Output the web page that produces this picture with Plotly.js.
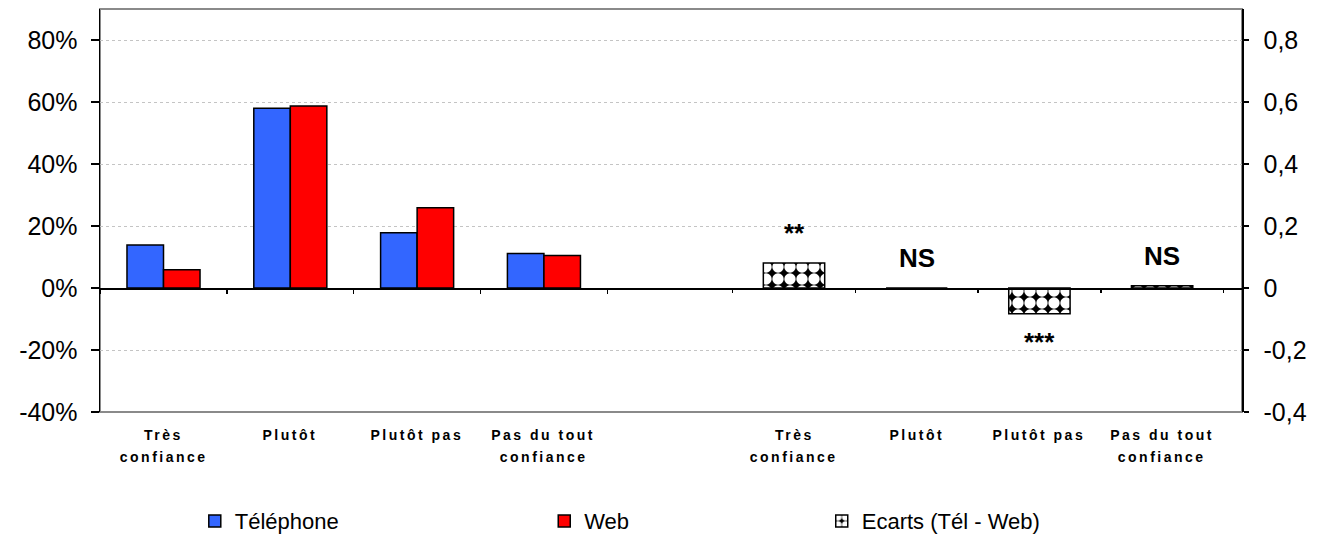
<!DOCTYPE html>
<html>
<head>
<meta charset="utf-8">
<script src="https://cdn.plot.ly/plotly-3.0.1.min.js"></script>
<style>
  html, body { margin: 0; padding: 0; background: #fff; }
  #chart { width: 1318px; height: 535px; }
</style>
</head>
<body>
<div id="chart"></div>
<script>
// ---- data ----
const cats = ['Très confiance', 'Plutôt', 'Plutôt pas', 'Pas du tout confiance'];
const labelLine1 = ['Très', 'Plutôt', 'Plutôt pas', 'Pas du tout'];
const labelLine2 = ['confiance', '', '', 'confiance'];
const telephone = [0.139, 0.580, 0.178, 0.111];
const web = [0.059, 0.587, 0.259, 0.105];
const ecarts = [0.081, 0.0, -0.083, 0.007];
const significance = ['**', 'NS', '***', 'NS'];
const yTickVals = [-0.4, -0.2, 0, 0.2, 0.4, 0.6, 0.8];
const yLeftTickText = ['-40%', '-20%', '0%', '20%', '40%', '60%', '80%'];
const yRightTickText = ['-0,4', '-0,2', '0', '0,2', '0,4', '0,6', '0,8'];
const seriesNames = ['Téléphone', 'Web', 'Ecarts (Tél - Web)'];

// ---- styling ----
const FONT = 'Liberation Sans, Arial, sans-serif';
const yRange = [-0.4, 0.9];
const zeroPos = (0 - yRange[0]) / (yRange[1] - yRange[0]);

const traces = [
  {
    type: 'bar', name: seriesNames[0], x: cats, y: telephone,
    xaxis: 'x', yaxis: 'y', legend: 'legend',
    marker: { color: '#3366FF', line: { color: '#000', width: 1.5 } },
    hoverinfo: 'skip'
  },
  {
    type: 'bar', name: seriesNames[1], x: cats, y: web,
    xaxis: 'x', yaxis: 'y', legend: 'legend2',
    marker: { color: '#FF0000', line: { color: '#000', width: 1.5 } },
    hoverinfo: 'skip'
  },
  {
    type: 'bar', name: seriesNames[2], x: cats, y: ecarts,
    xaxis: 'x2', yaxis: 'y2', legend: 'legend3', width: 0.5,
    marker: {
      color: '#000',
      line: { color: '#000', width: 1.5 },
      pattern: { shape: '.', fgcolor: '#fff', bgcolor: '#000', size: 12, solidity: 0.7, fillmode: 'replace' }
    },
    hoverinfo: 'skip'
  }
];

const annotations = [];
cats.forEach((c, i) => {
  ['x', 'x2'].forEach(xr => {
    annotations.push({
      xref: xr, x: c, yref: 'paper', y: 0, yanchor: 'middle', yshift: -23,
      text: labelLine1[i], showarrow: false,
      font: { family: FONT, size: 14, color: '#000', weight: 'bold' }
    });
    if (labelLine2[i]) {
      annotations.push({
        xref: xr, x: c, yref: 'paper', y: 0, yanchor: 'middle', yshift: -45,
        text: labelLine2[i], showarrow: false,
        font: { family: FONT, size: 14, color: '#000', weight: 'bold' }
      });
    }
  });
});
const nLabelAnn = annotations.length;
cats.forEach((c, i) => {
  const pos = ecarts[i] >= 0;
  annotations.push({
    xref: 'x2', x: c, yref: 'y2', y: ecarts[i],
    yanchor: pos ? 'bottom' : 'top', yshift: pos ? 13 : -11,
    text: significance[i], showarrow: false,
    font: { family: FONT, size: 26, color: '#000', weight: 'bold' }
  });
});

const legendBase = {
  orientation: 'h', yref: 'container', y: 0.026, yanchor: 'middle', xanchor: 'left',
  font: { family: FONT, size: 22, color: '#000' }, bgcolor: 'rgba(0,0,0,0)', borderwidth: 0
};

const layout = {
  width: 1318, height: 535,
  margin: { l: 100, r: 76, t: 9, b: 123, autoexpand: false },
  paper_bgcolor: '#fff', plot_bgcolor: '#fff',
  font: { family: FONT, color: '#000' },
  barmode: 'group', bargap: 0.424, bargroupgap: 0,
  showlegend: true,
  legend: Object.assign({}, legendBase, { x: 0.083 }),
  legend2: Object.assign({}, legendBase, { x: 0.389 }),
  legend3: Object.assign({}, legendBase, { x: 0.632 }),
  xaxis: {
    type: 'category', categoryarray: cats, categoryorder: 'array',
    range: [-0.5008, 8.505], anchor: 'free', position: zeroPos,
    showline: true, linecolor: '#000', linewidth: 1.5,
    ticks: 'outside', ticklen: 4, tickwidth: 1.5, tickcolor: '#000', tickson: 'boundaries',
    showticklabels: false, showgrid: false, zeroline: false, fixedrange: true
  },
  xaxis2: {
    type: 'category', categoryarray: cats, categoryorder: 'array',
    overlaying: 'x', range: [-5.656, 3.651], anchor: 'free', position: zeroPos,
    showline: false,
    ticks: 'outside', ticklen: 4, tickwidth: 1.5, tickcolor: '#000', tickson: 'boundaries',
    showticklabels: false, showgrid: false, zeroline: false, fixedrange: true
  },
  yaxis: {
    range: yRange, tickvals: yTickVals, ticktext: yLeftTickText,
    showline: true, linecolor: '#000', linewidth: 1.5,
    ticks: 'outside', ticklen: 8, tickwidth: 1.5, tickcolor: '#000',
    ticklabelstandoff: 8,
    tickfont: { family: FONT, size: 25, color: '#000' },
    showgrid: true, gridcolor: '#c4c4c4', griddash: 'dot', gridwidth: 1,
    zeroline: false, fixedrange: true
  },
  yaxis2: {
    overlaying: 'y', side: 'right', anchor: 'x2',
    range: yRange, tickvals: yTickVals, ticktext: yRightTickText,
    showline: true, linecolor: '#000', linewidth: 1.5,
    ticks: 'outside', ticklen: 5, tickwidth: 1.5, tickcolor: '#000',
    ticklabelstandoff: 10,
    tickfont: { family: FONT, size: 25, color: '#000' },
    showgrid: false, zeroline: false, fixedrange: true
  },
  yaxis3: {
    overlaying: 'y', side: 'right', anchor: 'x',
    range: yRange, tickvals: yTickVals,
    ticks: 'inside', ticklen: 10, tickwidth: 1.5, tickcolor: '#000',
    showticklabels: false, showline: false, showgrid: false, zeroline: false, fixedrange: true
  },
  shapes: [
    { type: 'rect', xref: 'paper', yref: 'paper', x0: 0, x1: 1, y0: 0, y1: 1,
      line: { color: '#8a8a8a', width: 2 }, layer: 'below' }
  ],
  annotations: annotations
};

Plotly.newPlot('chart', traces, layout, { staticPlot: true, displayModeBar: false }).then(() => {
  document.querySelectorAll('#chart .annotation').forEach(g => {
    const idx = parseInt(g.getAttribute('data-index'), 10);
    if (idx < nLabelAnn) {
      const t = g.querySelector('text');
      if (t) t.style.letterSpacing = '2.5px';
    }
  });
});
</script>
</body>
</html>
